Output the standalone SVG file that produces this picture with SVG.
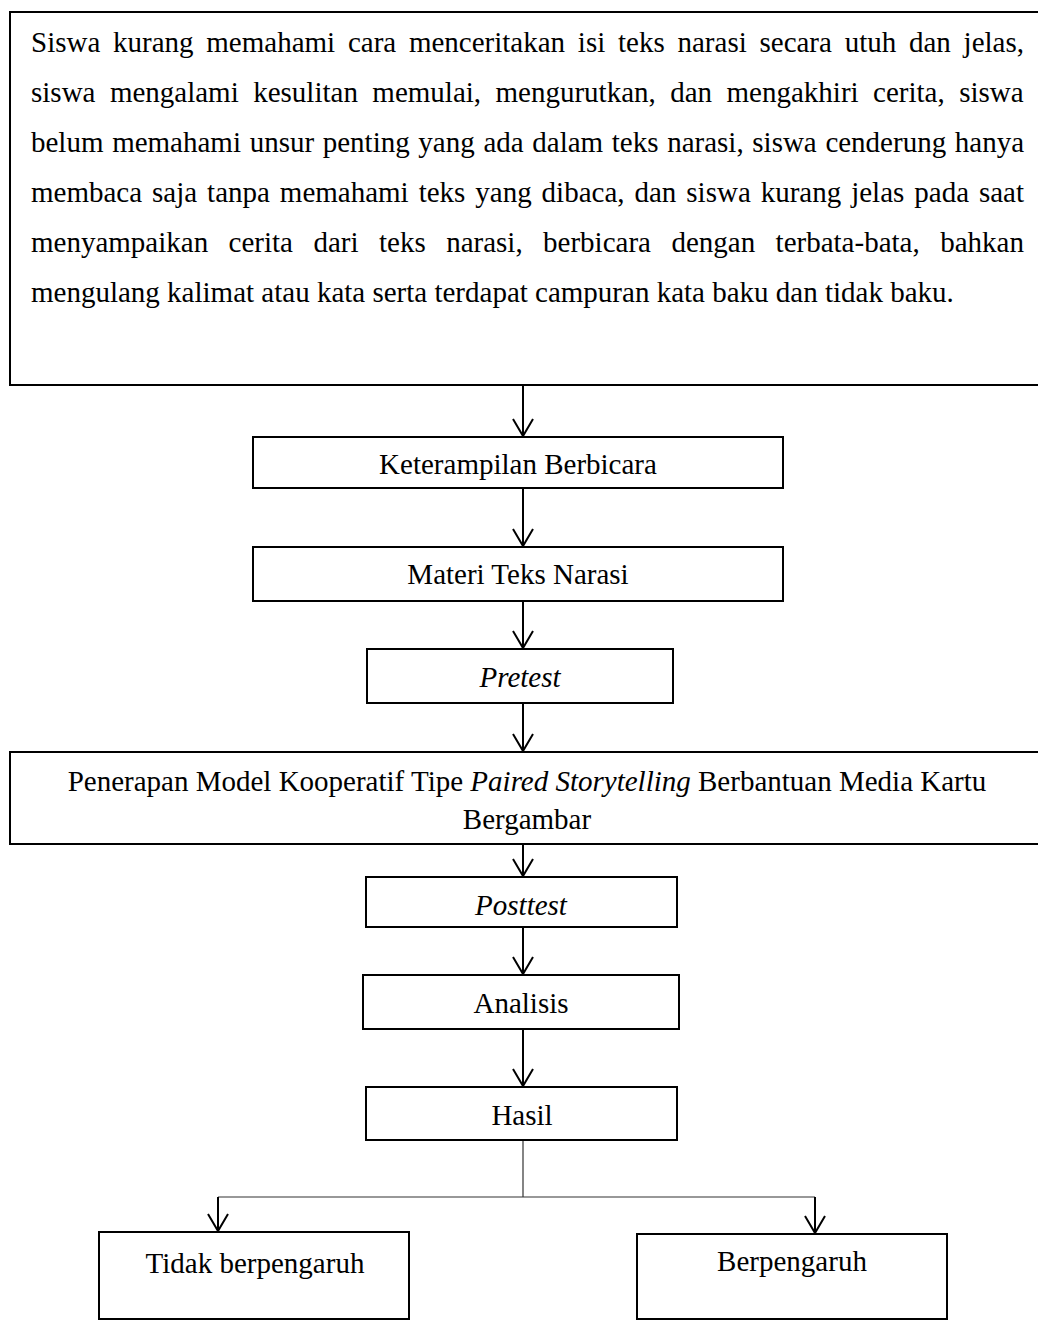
<svg xmlns="http://www.w3.org/2000/svg" width="1038" height="1320" viewBox="0 0 1038 1320">
<style>
.box{fill:#fff;stroke:#000;stroke-width:2}
.t{font-family:"Liberation Serif","Times New Roman",serif;font-size:29px;fill:#000}
.c{text-anchor:middle}
.i{font-style:italic}
.ln{fill:none;stroke:#000;stroke-width:2}
.thin{fill:none;stroke:#333;stroke-width:1.2}
</style>
<defs>
<marker id="arr" viewBox="-20 -12 24 24" refX="0" refY="0" markerWidth="24" markerHeight="24" orient="auto" markerUnits="userSpaceOnUse" overflow="visible">
<path d="M-17,-10 L0,0 L-17,10" fill="none" stroke="#000" stroke-width="2"/>
</marker>
</defs>
<rect width="1038" height="1320" fill="#fff"/>
<g id="n-masalah">
<rect class="box" x="10" y="12" width="1040" height="373"/>
<text class="t" x="31" y="52" word-spacing="5.5">Siswa kurang memahami cara menceritakan isi teks narasi secara utuh dan jelas,</text>
<text class="t" x="31" y="102" word-spacing="7.2">siswa mengalami kesulitan memulai, mengurutkan, dan mengakhiri cerita, siswa</text>
<text class="t" x="31" y="152" word-spacing="1.4">belum memahami unsur penting yang ada dalam teks narasi, siswa cenderung hanya</text>
<text class="t" x="31" y="202" word-spacing="2.7">membaca saja tanpa memahami teks yang dibaca, dan siswa kurang jelas pada saat</text>
<text class="t" x="31" y="252" word-spacing="13.2">menyampaikan cerita dari teks narasi, berbicara dengan terbata-bata, bahkan</text>
<text class="t" x="31" y="302">mengulang kalimat atau kata serta terdapat campuran kata baku dan tidak baku.</text>
</g>
<g id="n-keterampilan">
<rect class="box" x="253" y="437" width="530" height="51"/>
<text class="t c" x="518" y="474">Keterampilan Berbicara</text>
</g>
<g id="n-materi">
<rect class="box" x="253" y="547" width="530" height="54"/>
<text class="t c" x="518" y="584">Materi Teks Narasi</text>
</g>
<g id="n-pretest">
<rect class="box" x="367" y="649" width="306" height="54"/>
<text class="t c i" x="520" y="687">Pretest</text>
</g>
<g id="n-penerapan">
<rect class="box" x="10" y="752" width="1040" height="92"/>
<text class="t c" x="527" y="791">Penerapan Model Kooperatif Tipe <tspan class="i">Paired Storytelling</tspan> Berbantuan Media Kartu</text>
<text class="t c" x="527" y="829">Bergambar</text>
</g>
<g id="n-posttest">
<rect class="box" x="366" y="877" width="311" height="50"/>
<text class="t c i" x="521" y="915">Posttest</text>
</g>
<g id="n-analisis">
<rect class="box" x="363" y="975" width="316" height="54"/>
<text class="t c" x="521" y="1013">Analisis</text>
</g>
<g id="n-hasil">
<rect class="box" x="366" y="1087" width="311" height="53"/>
<text class="t c" x="522" y="1125">Hasil</text>
</g>
<g id="n-tidak">
<rect class="box" x="99" y="1232" width="310" height="87"/>
<text class="t c" x="255" y="1273">Tidak berpengaruh</text>
</g>
<g id="n-berpengaruh">
<rect class="box" x="637" y="1234" width="310" height="85"/>
<text class="t c" x="792" y="1271">Berpengaruh</text>
</g>
<g id="connectors">
<line class="ln" x1="523" y1="386" x2="523" y2="436" marker-end="url(#arr)"/>
<line class="ln" x1="523" y1="489" x2="523" y2="546" marker-end="url(#arr)"/>
<line class="ln" x1="523" y1="602" x2="523" y2="648" marker-end="url(#arr)"/>
<line class="ln" x1="523" y1="704" x2="523" y2="751" marker-end="url(#arr)"/>
<line class="ln" x1="523" y1="845" x2="523" y2="876" marker-end="url(#arr)"/>
<line class="ln" x1="523" y1="928" x2="523" y2="974" marker-end="url(#arr)"/>
<line class="ln" x1="523" y1="1030" x2="523" y2="1086" marker-end="url(#arr)"/>
<polyline class="thin" points="523,1141 523,1197"/>
<polyline class="thin" points="218,1197 815,1197"/>
<line class="ln" x1="218" y1="1197" x2="218" y2="1231" marker-end="url(#arr)"/>
<line class="ln" x1="815" y1="1197" x2="815" y2="1233" marker-end="url(#arr)"/>
</g>
</svg>
